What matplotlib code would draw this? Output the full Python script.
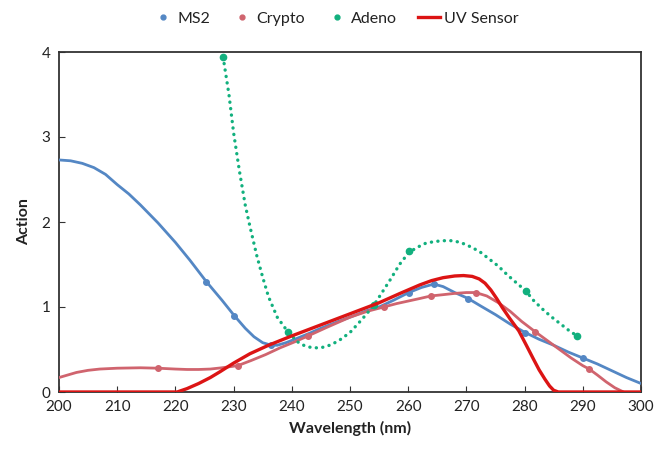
import matplotlib
matplotlib.use("Agg")
import matplotlib.pyplot as plt
from matplotlib.lines import Line2D

plt.rcParams['font.family'] = ['Lato', 'DejaVu Sans']

# MS2 curve and markers
ms2_x = [200, 202, 204, 206, 208, 210, 212, 214, 217, 220, 222.5, 225.3, 228, 230.1, 232, 233.5, 235, 236.5, 237.5, 239, 240.5, 243, 245, 248, 250, 253, 255, 257.5, 260.1, 262.3, 264.4, 266, 268, 270.3, 272.5, 275, 277.5, 280.1, 282.5, 285, 287.5, 290, 292.5, 295, 297.5, 300]
ms2_y = [2.73, 2.72, 2.69, 2.64, 2.56, 2.44, 2.33, 2.2, 1.99, 1.76, 1.55, 1.30, 1.08, 0.90, 0.75, 0.65, 0.58, 0.55, 0.55, 0.58, 0.62, 0.69, 0.75, 0.83, 0.88, 0.96, 1.0, 1.08, 1.17, 1.23, 1.27, 1.24, 1.17, 1.10, 1.01, 0.91, 0.80, 0.70, 0.62, 0.55, 0.47, 0.40, 0.33, 0.25, 0.17, 0.10]
ms2_mx = [225.3, 230.1, 236.5, 260.1, 264.4, 270.3, 280.1, 290]
ms2_my = [1.30, 0.90, 0.55, 1.17, 1.27, 1.10, 0.70, 0.40]

# Crypto curve and markers
cry_x = [200, 201.5, 203, 205, 207, 210, 214, 217, 220, 222, 224, 226, 228, 230.7, 233, 235.5, 238, 240.5, 242.8, 246, 250, 253, 255.8, 258, 260, 262, 263.9, 266, 268, 270, 271.6, 273.5, 275.5, 277.5, 279.5, 281.8, 284, 286, 288, 290, 291.1, 292.5, 294, 295.5, 297]
cry_y = [0.17, 0.20, 0.23, 0.255, 0.27, 0.28, 0.285, 0.28, 0.27, 0.265, 0.265, 0.27, 0.285, 0.31, 0.37, 0.44, 0.52, 0.59, 0.66, 0.76, 0.88, 0.95, 1.0, 1.04, 1.07, 1.10, 1.13, 1.145, 1.16, 1.17, 1.17, 1.13, 1.05, 0.95, 0.83, 0.71, 0.60, 0.50, 0.40, 0.31, 0.27, 0.20, 0.12, 0.05, 0.0]
cry_mx = [217, 230.7, 242.8, 255.8, 263.9, 271.6, 281.8, 291.1]
cry_my = [0.28, 0.31, 0.66, 1.0, 1.13, 1.17, 0.71, 0.27]

# Adeno curve and markers
ade_x = [228.2, 229.2, 230, 231, 232, 232.8, 234, 235, 236, 237.5, 239.3, 241, 242.3, 243.6, 245, 246.5, 248, 250, 252, 254.1, 255.5, 257, 258.5, 260.1, 261.5, 263, 264.5, 266, 267.5, 269, 271, 272.5, 274, 275.5, 277, 278.5, 280.2, 281.5, 283, 284.5, 286, 287.5, 289]
ade_y = [3.94, 3.5, 3.05, 2.6, 2.2, 1.95, 1.6, 1.35, 1.12, 0.88, 0.71, 0.59, 0.54, 0.52, 0.52, 0.55, 0.6, 0.7, 0.85, 1.02, 1.17, 1.33, 1.5, 1.64, 1.7, 1.75, 1.77, 1.78, 1.78, 1.76, 1.7, 1.64, 1.56, 1.48, 1.38, 1.29, 1.19, 1.08, 0.98, 0.89, 0.81, 0.73, 0.66]
ade_mx = [228.2, 239.3, 254.1, 260.1, 280.2, 289]
ade_my = [3.94, 0.71, 1.02, 1.66, 1.19, 0.66]

# UV sensor curve
uv_x = [200, 220.3, 222, 224, 226, 227.7, 230, 232.8, 236, 240, 245, 250, 255, 258.6, 262, 264, 266, 268, 269.5, 271, 272.2, 273.2, 274.2, 275.2, 276.2, 277.5, 279, 280.3, 281.5, 282.5, 283.5, 284.3, 285, 285.8, 300]
uv_y = [0, 0, 0.04, 0.10, 0.17, 0.24, 0.34, 0.45, 0.55, 0.66, 0.79, 0.92, 1.05, 1.16, 1.26, 1.31, 1.345, 1.365, 1.37, 1.36, 1.33, 1.28, 1.2, 1.1, 0.99, 0.86, 0.72, 0.55, 0.39, 0.26, 0.15, 0.07, 0.02, 0, 0]

c_ms2 = '#5487C4'
c_cry = '#D0646E'
c_ade = '#12B07E'
c_uv = '#DC1414'

fig = plt.figure(figsize=(6.54, 4.51), dpi=100)
ax = fig.add_axes([59/654, 1-392/451, 582/654, 340/451])

ax.plot(ms2_x, ms2_y, color=c_ms2, lw=2.0, solid_capstyle='round', solid_joinstyle='round', zorder=3)
ax.plot(ms2_mx, ms2_my, 'o', color=c_ms2, ms=4, zorder=4)
ax.plot(cry_x, cry_y, color=c_cry, lw=2.0, solid_capstyle='round', solid_joinstyle='round', zorder=3)
ax.plot(cry_mx, cry_my, 'o', color=c_cry, ms=4, zorder=4)
ax.plot(ade_x, ade_y, color=c_ade, lw=2.4, linestyle=(0, (0.05, 1.9)), dash_capstyle='round', zorder=3)
ax.plot(ade_mx, ade_my, 'o', color=c_ade, ms=4.5, zorder=4)
ax.plot(uv_x, uv_y, color=c_uv, lw=2.4, solid_joinstyle='round', zorder=5)

ax.set_xlim(200, 300)
ax.set_ylim(0, 4)
ax.set_xticks(range(200, 301, 10))
ax.set_yticks(range(0, 5))
ax.tick_params(direction='in', length=4, width=0.8, labelsize=11, colors='#333333', pad=6)
ax.tick_params(axis='both', labelcolor='#222222')
for s in ax.spines.values():
    s.set_color('#333333')
    s.set_linewidth(1.3)

ax.set_xlabel('Wavelength (nm)', fontsize=11.5, fontweight='bold', color='#222222', labelpad=5)
ax.set_ylabel('Action', fontsize=11.5, fontweight='bold', color='#222222', labelpad=8)

handles = [
    Line2D([], [], marker='o', ls='none', color=c_ms2, ms=3.5),
    Line2D([], [], marker='o', ls='none', color=c_cry, ms=3.5),
    Line2D([], [], marker='o', ls='none', color=c_ade, ms=3.5),
    Line2D([], [], color=c_uv, lw=2.4),
]
fig.legend(handles, ['MS2', 'Crypto', 'Adeno', 'UV Sensor'], loc='center', bbox_to_anchor=(335/654, 1-19/451),
           ncol=4, frameon=False, fontsize=11.5, handlelength=1.4, handletextpad=0.2, columnspacing=1.3,
           labelcolor='#222222')

fig.savefig('out.png', dpi=100)
